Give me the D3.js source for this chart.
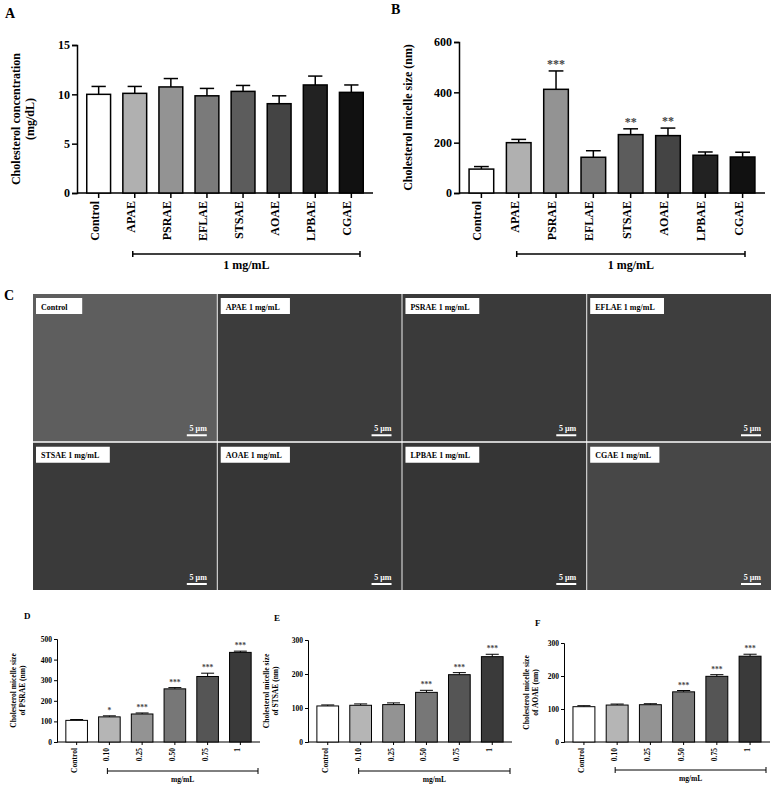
<!DOCTYPE html>
<html><head><meta charset="utf-8">
<script src="https://cdn.jsdelivr.net/npm/d3@7"></script>
<style>body{margin:0;background:#fff}text{font-family:"Liberation Serif",serif;font-weight:bold}</style>
</head><body><svg id="c" width="772" height="787"></svg>
<script>
const catsAB = ["Control","APAE","PSRAE","EFLAE","STSAE","AOAE","LPBAE","CGAE"];
const valsA = [10.0,10.1,10.75,9.85,10.3,9.05,10.95,10.2];
const errA  = [0.8,0.7,0.85,0.75,0.6,0.8,0.9,0.75];
const valsB = [95,200,412,142,232,228,150,143];
const errB  = [10,13,73,26,23,30,13,19];
const sigB  = ["","","***","","**","**","",""];
const colAB = ["#ffffff","#b0b0b0","#939393","#7a7a7a","#5c5c5c","#444444","#222222","#111111"];
const catsDose = ["Control","0.10","0.25","0.50","0.75","1"];
const valsD = [105,122,136,258,318,435]; const errD=[4,5,5,6,16,6]; const sigD=["","*","***","***","***","***"];
const valsE = [106,108,110,146,198,251]; const errE=[3,4,5,6,6,7]; const sigE=["","","","***","***","***"];
const valsF = [107,112,113,152,199,260]; const errF=[3,3,3,4,5,6]; const sigF=["","","","***","***","***"];
const colDose = ["#ffffff","#b5b5b5","#939393","#777777","#555555","#3a3a3a"];
const semLabels = ["Control","APAE 1 mg/mL","PSRAE 1 mg/mL","EFLAE 1 mg/mL","STSAE 1 mg/mL","AOAE 1 mg/mL","LPBAE 1 mg/mL","CGAE 1 mg/mL"];

const svg = d3.select("#c");

function panel(o){
  const g = svg.append("g");
  const x = d3.scaleBand().domain(o.cats).range([o.x0,o.x1]).paddingInner(o.pad).paddingOuter(o.pad/2+0.1);
  const y = d3.scaleLinear().domain([0,o.max]).range([o.y0,o.y1]);
  g.append("text").attr("x",o.lx).attr("y",o.ly).attr("font-size",o.lfs).text(o.letter);
  const ya = g.append("g").attr("transform",`translate(${o.x0},0)`).call(d3.axisLeft(y).tickValues(o.ticks).tickSize(o.tk).tickPadding(2));
  ya.selectAll("text").attr("font-size",o.fs).attr("fill","#000");
  ya.selectAll("line,path").attr("stroke","#000").attr("stroke-width",o.sw);
  const xa = g.append("g").attr("transform",`translate(0,${o.y0})`).call(d3.axisBottom(x).tickSize(o.tk).tickPadding(3));
  xa.select("path").attr("d",`M${o.x0},0H${o.x1}`);
  xa.selectAll("line,path").attr("stroke","#000").attr("stroke-width",o.sw);
  xa.selectAll("text").attr("font-size",o.fs).attr("fill","#000").attr("text-anchor","end")
    .attr("transform",`translate(${-o.fs*0.35},${o.tk+3}) rotate(-90)`).attr("x",0).attr("y",0).attr("dy","0.35em");
  const bw = x.bandwidth();
  o.vals.forEach((v,i)=>{
    const cx = x(o.cats[i])+bw/2, top=y(v+o.err[i]);
    g.append("line").attr("x1",cx).attr("x2",cx).attr("y1",y(v)).attr("y2",top).attr("stroke","#000").attr("stroke-width",o.sw);
    g.append("line").attr("x1",cx-bw*0.3).attr("x2",cx+bw*0.3).attr("y1",top).attr("y2",top).attr("stroke","#000").attr("stroke-width",o.sw);
    g.append("rect").attr("x",x(o.cats[i])).attr("width",bw).attr("y",y(v)).attr("height",o.y0-y(v))
      .attr("fill",o.cols[i]).attr("stroke","#000").attr("stroke-width",o.sw);
    if(o.sig && o.sig[i]) g.append("text").attr("x",cx).attr("y",top-3).attr("text-anchor","middle").attr("font-size",o.fs).attr("fill","#444").text(o.sig[i]);
  });
  const bx0 = x(o.cats[1])+bw/2-2, bx1 = o.bx1;
  g.append("line").attr("x1",bx0).attr("x2",bx1).attr("y1",o.by).attr("y2",o.by).attr("stroke","#000").attr("stroke-width",o.sw);
  [bx0,bx1].forEach(b=>g.append("line").attr("x1",b).attr("x2",b).attr("y1",o.by-3).attr("y2",o.by+3).attr("stroke","#000").attr("stroke-width",o.sw));
  g.append("text").attr("x",(bx0+bx1)/2).attr("y",o.by+o.blOff).attr("text-anchor","middle").attr("font-size",o.fs).text(o.bl);
  const yl = g.append("text").attr("transform",`translate(${o.ylx},${(o.y0+o.y1)/2}) rotate(-90)`).attr("text-anchor","middle").attr("font-size",o.yfs);
  o.ylab.forEach((t,k)=>yl.append("tspan").attr("x",0).attr("dy",k?o.yfs*1.2:0).text(t));
}

panel({cats:catsAB,vals:valsA,err:errA,cols:colAB,x0:77,x1:373,y0:193,y1:45,max:15,ticks:[0,5,10,15],pad:0.34,
  letter:"A",lx:5,ly:18,lfs:14,fs:12,yfs:12,tk:5,sw:1.5,by:254,bx1:360,bl:"1 mg/mL",blOff:15,ylx:20,ylab:["Cholesterol concentration","(mg/dL)"]});
panel({cats:catsAB,vals:valsB,err:errB,cols:colAB,sig:sigB,x0:459,x1:765,y0:193,y1:42,max:600,ticks:[0,200,400,600],pad:0.34,
  letter:"B",lx:391,ly:14,lfs:14,fs:12,yfs:12,tk:5,sw:1.5,by:254,bx1:745,bl:"1 mg/mL",blOff:15,ylx:412,ylab:["Cholesterol micelle size (nm)"]});
panel({cats:catsDose,vals:valsD,err:errD,cols:colDose,sig:sigD,x0:57,x1:260,y0:742,y1:639,max:500,ticks:[0,100,200,300,400,500],pad:0.34,
  letter:"D",lx:24,ly:619,lfs:9,fs:7.5,yfs:7.5,tk:3,sw:1,by:771,bx1:258,bl:"mg/mL",blOff:11,ylx:16,ylab:["Cholesterol micelle size","of PSRAE (nm)"]});
panel({cats:catsDose,vals:valsE,err:errE,cols:colDose,sig:sigE,x0:308,x1:512,y0:742,y1:640,max:300,ticks:[0,100,200,300],pad:0.34,
  letter:"E",lx:274,ly:621,lfs:9,fs:7.5,yfs:7.5,tk:3,sw:1,by:771,bx1:510,bl:"mg/mL",blOff:11,ylx:269,ylab:["Cholesterol micelle size","of STSAE (nm)"]});
panel({cats:catsDose,vals:valsF,err:errF,cols:colDose,sig:sigF,x0:564,x1:770,y0:742,y1:643,max:300,ticks:[0,100,200,300],pad:0.34,
  letter:"F",lx:535,ly:626,lfs:9,fs:7.5,yfs:7.5,tk:3,sw:1,by:770,bx1:766,bl:"mg/mL",blOff:11,ylx:529,ylab:["Cholesterol micelle size","of AOAE (nm)"]});

// Panel C: SEM image tiles (placeholders)
svg.append("text").attr("x",4).attr("y",300).attr("font-size",14).text("C");
const gx = d3.scaleBand().domain(d3.range(4)).range([33,771]).paddingInner(0.005);
const gy = d3.scaleBand().domain(d3.range(2)).range([294,590]).paddingInner(0.01);
const tileFill = ["#5e5e5e","#3c3c3c","#3a3a3a","#3e3e3e","#3a3a3a","#363636","#353535","#474747"];
semLabels.forEach((lab,i)=>{
  const c=i%4,r=Math.floor(i/4), X=gx(c),Y=gy(r),W=gx.bandwidth(),H=gy.bandwidth();
  const g=svg.append("g");
  g.append("rect").attr("x",X).attr("y",Y).attr("width",W).attr("height",H).attr("fill",tileFill[i]);
  g.append("rect").attr("x",X+3).attr("y",Y+4).attr("width",lab.length*4.6+14).attr("height",16).attr("fill","#fff");
  g.append("text").attr("x",X+8).attr("y",Y+15.5).attr("font-size",8).text(lab);
  g.append("text").attr("x",X+W-10).attr("y",Y+H-10).attr("text-anchor","end").attr("font-size",8).attr("fill","#fff").attr("font-family","DejaVu Sans").text("5 μm");
  g.append("line").attr("x1",X+W-30).attr("x2",X+W-10).attr("y1",Y+H-6).attr("y2",Y+H-6).attr("stroke","#fff").attr("stroke-width",2);
});
</script></body></html>
